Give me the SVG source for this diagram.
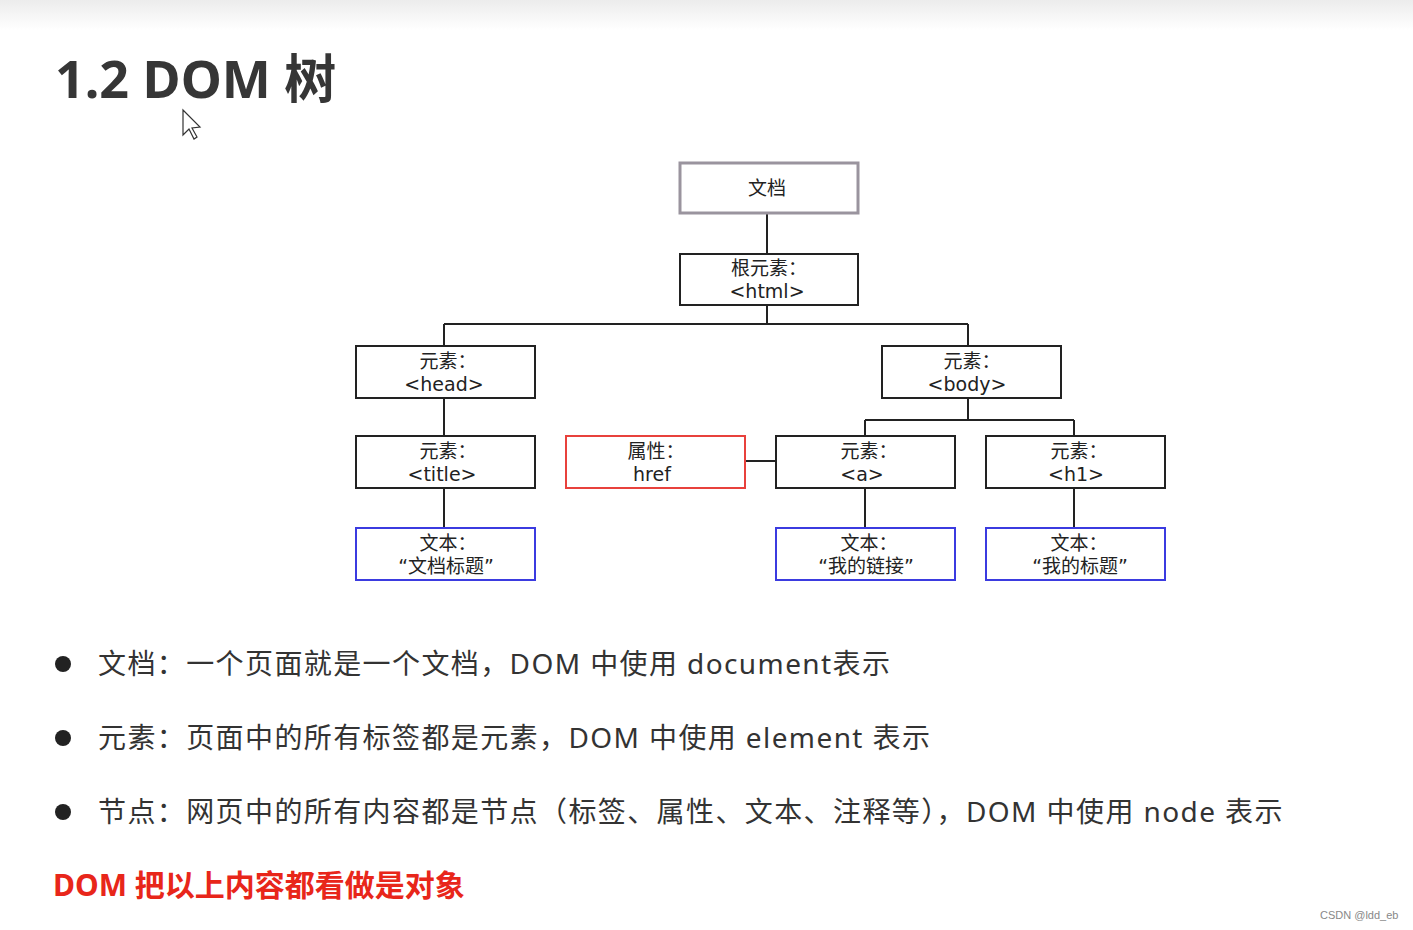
<svg xmlns="http://www.w3.org/2000/svg" width="1413" height="930" viewBox="0 0 1413 930">
<defs>
<linearGradient id="topband" x1="0" y1="0" x2="0" y2="1">
<stop offset="0" stop-color="#ececec"/>
<stop offset="1" stop-color="#ffffff"/>
</linearGradient>
<style>
.box{fill:#fff;stroke:#222;stroke-width:2}
.doc{fill:#fff;stroke:#9a949e;stroke-width:3}
.attr{fill:#fff;stroke:#e8413c;stroke-width:2}
.txt{fill:#fff;stroke:#3b3be0;stroke-width:2}
.lbl{font-family:"DejaVu Sans","Noto Sans CJK SC",sans-serif;font-size:19px;fill:#222;text-anchor:middle}
.conn{stroke:#222;stroke-width:2;fill:none}
.body{font-family:"Noto Sans","Noto Sans CJK SC",sans-serif;font-size:28px;letter-spacing:1.4px;fill:#333}
</style>
</defs>
<rect width="1413" height="930" fill="#fff"/>
<rect width="1413" height="30" fill="url(#topband)"/>
<text x="55" y="98" font-family="'Noto Sans','Noto Sans CJK SC',sans-serif" font-size="52" font-weight="bold" fill="#363636">1.2 DOM 树</text>
<path d="M183 110 L183 135 L189 129 L194 139 L197 137 L192 128 L200 127 Z" fill="#fff" stroke="#333" stroke-width="1.2"/>

<g id="connectors">
<path class="conn" d="M767 213 V254 M767 305 V324 M444 324 H968 M444 324 V346 M968 324 V346 M444 398 V436 M968 398 V420 M865 420 H1074 M865 420 V436 M1074 420 V436 M745 461 H776 M444 488 V528 M865 488 V528 M1074 488 V528"/>
</g>

<g id="n-doc"><rect class="doc" x="680" y="163" width="178" height="50"/><text class="lbl" x="767" y="195">文档</text></g>
<g id="n-html"><rect class="box" x="680" y="254" width="178" height="51"/><text class="lbl" x="769" y="275">根元素：</text><text class="lbl" x="767" y="298">&lt;html&gt;</text></g>
<g id="n-head"><rect class="box" x="356" y="346" width="179" height="52"/><text class="lbl" x="448" y="368">元素：</text><text class="lbl" x="444" y="391">&lt;head&gt;</text></g>
<g id="n-body"><rect class="box" x="882" y="346" width="179" height="52"/><text class="lbl" x="972" y="368">元素：</text><text class="lbl" x="967" y="391">&lt;body&gt;</text></g>
<g id="n-title"><rect class="box" x="356" y="436" width="179" height="52"/><text class="lbl" x="448" y="458">元素：</text><text class="lbl" x="442" y="481">&lt;title&gt;</text></g>
<g id="n-href"><rect class="attr" x="566" y="436" width="179" height="52"/><text class="lbl" x="656" y="458">属性：</text><text class="lbl" x="652" y="481">href</text></g>
<g id="n-a"><rect class="box" x="776" y="436" width="179" height="52"/><text class="lbl" x="869" y="458">元素：</text><text class="lbl" x="862" y="481">&lt;a&gt;</text></g>
<g id="n-h1"><rect class="box" x="986" y="436" width="179" height="52"/><text class="lbl" x="1079" y="458">元素：</text><text class="lbl" x="1076" y="481">&lt;h1&gt;</text></g>
<g id="n-t1"><rect class="txt" x="356" y="528" width="179" height="52"/><text class="lbl" x="448" y="550">文本：</text><text class="lbl" x="446" y="573">“文档标题”</text></g>
<g id="n-t2"><rect class="txt" x="776" y="528" width="179" height="52"/><text class="lbl" x="869" y="550">文本：</text><text class="lbl" x="866" y="573">“我的链接”</text></g>
<g id="n-t3"><rect class="txt" x="986" y="528" width="179" height="52"/><text class="lbl" x="1079" y="550">文本：</text><text class="lbl" x="1080" y="573">“我的标题”</text></g>

<circle cx="63" cy="664" r="8" fill="#222"/>
<circle cx="63" cy="738" r="8" fill="#222"/>
<circle cx="63" cy="812" r="8" fill="#222"/>
<text class="body" x="98" y="674">文档：一个页面就是一个文档，DOM 中使用 document表示</text>
<text class="body" x="98" y="748">元素：页面中的所有标签都是元素，DOM 中使用 element 表示</text>
<text class="body" x="98" y="822">节点：网页中的所有内容都是节点（标签、属性、文本、注释等），DOM 中使用 node 表示</text>
<text x="53" y="896" font-family="'Noto Sans','Noto Sans CJK SC',sans-serif" font-size="30" font-weight="bold" fill="#e8261a">DOM 把以上内容都看做是对象</text>
<text x="1320" y="919" font-family="'Liberation Sans',sans-serif" font-size="11" fill="#888">CSDN @ldd_eb</text>
</svg>
